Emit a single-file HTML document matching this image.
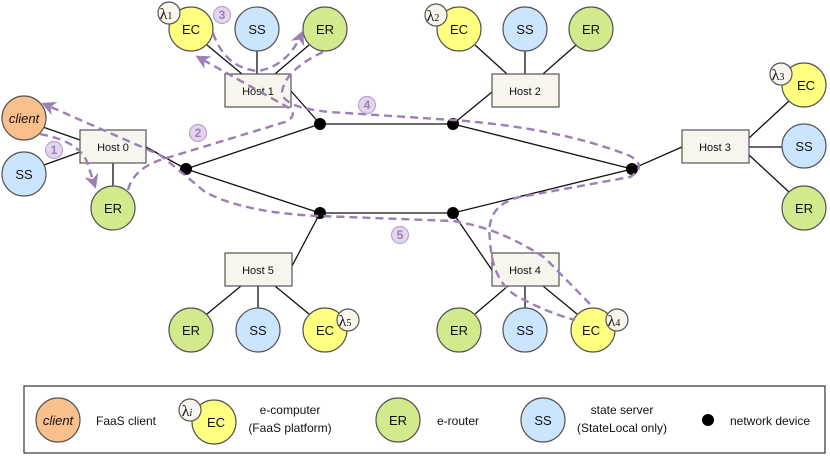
<!DOCTYPE html>
<html><head><meta charset="utf-8"><style>
html,body{margin:0;padding:0;background:#fff}
svg{display:block;font-family:"Liberation Sans",sans-serif}
</style></head><body>
<svg width="830" height="457" viewBox="0 0 830 457" xmlns="http://www.w3.org/2000/svg">
<defs>
<marker id="ar" viewBox="0 0 10 10" refX="8" refY="5" markerWidth="6" markerHeight="6" orient="auto-start-reverse" markerUnits="strokeWidth">
<path d="M0,0 L10,5 L0,10 L3,5 z" fill="#9b7fb5"/></marker>
</defs>
<g stroke="#111" stroke-width="1.3" fill="none">
<line x1="40" y1="126" x2="80" y2="140"/><line x1="44" y1="165" x2="80" y2="152"/><line x1="113" y1="163" x2="113" y2="186"/>
<line x1="146" y1="147" x2="186" y2="169"/>
<line x1="186" y1="169" x2="320" y2="124"/><line x1="186" y1="169" x2="320" y2="213"/>
<line x1="320" y1="124" x2="453" y2="124"/><line x1="320" y1="213" x2="453" y2="213"/>
<line x1="453" y1="124" x2="632" y2="169"/><line x1="453" y1="213" x2="632" y2="169"/>
<line x1="320" y1="124" x2="291" y2="91"/><line x1="453" y1="124" x2="492" y2="92"/>
<line x1="632" y1="169" x2="682" y2="147"/><line x1="320" y1="213" x2="292" y2="266"/><line x1="453" y1="213" x2="492" y2="270"/>
<line x1="207" y1="45" x2="242" y2="74"/><line x1="257" y1="51" x2="257" y2="74"/><line x1="309" y1="45" x2="275" y2="74"/>
<line x1="475" y1="45" x2="507" y2="74"/><line x1="525" y1="51" x2="525" y2="74"/><line x1="576" y1="45" x2="543" y2="74"/>
<line x1="749" y1="138" x2="789" y2="101"/><line x1="749" y1="147" x2="782" y2="147"/><line x1="749" y1="155" x2="789" y2="192"/>
<line x1="241" y1="286" x2="207" y2="314"/><line x1="258" y1="286" x2="258" y2="308"/><line x1="275" y1="286" x2="309" y2="314"/>
<line x1="508" y1="286" x2="475" y2="314"/><line x1="525" y1="286" x2="525" y2="308"/><line x1="543" y1="286" x2="577" y2="314"/>
</g>
<g fill="#000">
<circle cx="186" cy="169" r="6"/><circle cx="320" cy="124" r="6"/><circle cx="453" cy="124" r="6"/>
<circle cx="632" cy="169" r="6"/><circle cx="320" cy="213" r="6"/><circle cx="453" cy="213" r="6"/>
</g>
<g fill="#f8f5ee" stroke="#555" stroke-width="1.2">
<rect x="80" y="130" width="66" height="33"/><rect x="225" y="74" width="66" height="33"/>
<rect x="492" y="74" width="67" height="33"/><rect x="682" y="130" width="67" height="33"/>
<rect x="225" y="253" width="67" height="33"/><rect x="492" y="253" width="67" height="33"/>
</g>
<g font-size="11" text-anchor="middle" fill="#111">
<text x="113" y="151">Host 0</text><text x="258" y="95">Host 1</text><text x="525" y="95">Host 2</text>
<text x="715" y="151">Host 3</text><text x="258" y="274">Host 5</text><text x="525" y="274">Host 4</text>
</g>
<g stroke="#555" stroke-width="1.2">
<circle cx="24" cy="118" r="22" fill="#f9c08c"/><circle cx="24" cy="174" r="22" fill="#cce5ff"/><circle cx="113" cy="208" r="22" fill="#d2ea8c"/>
<circle cx="191" cy="29" r="22" fill="#ffff80"/><circle cx="257" cy="29" r="22" fill="#cce5ff"/><circle cx="325" cy="29" r="22" fill="#d2ea8c"/>
<circle cx="459" cy="29" r="22" fill="#ffff80"/><circle cx="525" cy="29" r="22" fill="#cce5ff"/><circle cx="591" cy="29" r="22" fill="#d2ea8c"/>
<circle cx="804" cy="85" r="22" fill="#ffff80"/><circle cx="804" cy="146" r="22" fill="#cce5ff"/><circle cx="804" cy="208" r="22" fill="#d2ea8c"/>
<circle cx="191" cy="330" r="22" fill="#d2ea8c"/><circle cx="258" cy="330" r="22" fill="#cce5ff"/><circle cx="325" cy="330" r="22" fill="#ffff80"/>
<circle cx="459" cy="330" r="22" fill="#d2ea8c"/><circle cx="525" cy="330" r="22" fill="#cce5ff"/><circle cx="593" cy="330" r="22" fill="#ffff80"/>
<circle cx="169" cy="13" r="11" fill="#f8f5ee"/><circle cx="436" cy="15" r="11" fill="#f8f5ee"/><circle cx="781" cy="74" r="11" fill="#f8f5ee"/>
<circle cx="348" cy="320" r="11" fill="#f8f5ee"/><circle cx="617" cy="320" r="11" fill="#f8f5ee"/>
</g>
<g font-size="13" text-anchor="middle" fill="#111">
<text x="24" y="123" font-style="italic">client</text><text x="24" y="179">SS</text><text x="113" y="213">ER</text>
<text x="191" y="34">EC</text><text x="257" y="34">SS</text><text x="325" y="34">ER</text>
<text x="459" y="34">EC</text><text x="525" y="34">SS</text><text x="591" y="34">ER</text>
<text x="806" y="90">EC</text><text x="804" y="151">SS</text><text x="804" y="213">ER</text>
<text x="191" y="335">ER</text><text x="258" y="335">SS</text><text x="325" y="335">EC</text>
<text x="459" y="335">ER</text><text x="525" y="335">SS</text><text x="591" y="335">EC</text>
</g>
<g font-family="Liberation Serif,serif" font-size="16" text-anchor="middle" fill="#111">
<text x="166" y="19">λ<tspan font-size="10">1</tspan></text><text x="433" y="21">λ<tspan font-size="10">2</tspan></text>
<text x="778" y="80">λ<tspan font-size="10">3</tspan></text><text x="345" y="326">λ<tspan font-size="10">5</tspan></text>
<text x="614" y="326">λ<tspan font-size="10">4</tspan></text>
</g>
<g fill="none" stroke="#9b7fb5" stroke-width="2.4" stroke-dasharray="8,5">
<path d="M40,134 Q82,142 88,165 L95,186" marker-end="url(#ar)"/>
<path d="M590,304 L545,258 Q500,228 453,221 L320,216 Q245,213 205,192 Q185,175 160,155 L44,104" marker-end="url(#ar)"/>
<path d="M128,190 Q134,166 170,157 L285,122 Q302,114 282,104 L198,57" marker-end="url(#ar)"/>
<path d="M213,33 Q225,68 258,71 Q288,66 302,33" marker-end="url(#ar)"/>
<path d="M323,52 Q285,70 282,92 Q283,108 330,112 L453,120 Q560,128 630,156 Q648,166 630,177 L520,197 Q485,205 490,240 Q492,280 515,295 Q545,312 575,320"/>
</g>
<g font-size="12" text-anchor="middle">
<g fill="#e3d6ec" stroke="#b9a3cc" stroke-width="1.2">
<circle cx="54" cy="150" r="8.5"/><circle cx="198" cy="133" r="8.5"/><circle cx="222" cy="15" r="8.5"/>
<circle cx="367" cy="105" r="8.5"/><circle cx="400" cy="235" r="8.5"/></g>
<g fill="#9b7fb5" font-weight="bold">
<text x="54" y="154">1</text><text x="198" y="137">2</text><text x="222" y="19">3</text><text x="367" y="109">4</text><text x="400" y="239">5</text></g>
</g>
<rect x="24" y="386" width="801" height="67" fill="#fff" stroke="#333" stroke-width="1.2"/>
<g stroke="#555" stroke-width="1.2">
<circle cx="58" cy="420" r="22" fill="#f9c08c"/><circle cx="214" cy="422" r="22" fill="#ffff80"/>
<circle cx="190" cy="410" r="11" fill="#f8f5ee"/>
<circle cx="398" cy="420" r="22" fill="#d2ea8c"/><circle cx="543" cy="420" r="22" fill="#cce5ff"/>
</g>
<circle cx="708" cy="420" r="6" fill="#000"/>
<g font-size="13" fill="#111">
<text x="58" y="425" text-anchor="middle" font-style="italic">client</text>
<text x="216" y="427" text-anchor="middle">EC</text>
<text x="398" y="425" text-anchor="middle">ER</text>
<text x="543" y="425" text-anchor="middle">SS</text>
<text x="187" y="416" font-family="Liberation Serif,serif" font-size="16" text-anchor="middle">λ<tspan font-size="10" font-style="italic">i</tspan></text>
</g>
<g font-size="12" fill="#111" text-anchor="middle">
<text x="126" y="425">FaaS client</text>
<text x="290" y="414">e-computer</text><text x="290" y="432">(FaaS platform)</text>
<text x="458" y="425">e-router</text>
<text x="622" y="414">state server</text><text x="622" y="432">(StateLocal only)</text>
<text x="730" y="425" text-anchor="start">network device</text>
</g>
</svg>
</body></html>
